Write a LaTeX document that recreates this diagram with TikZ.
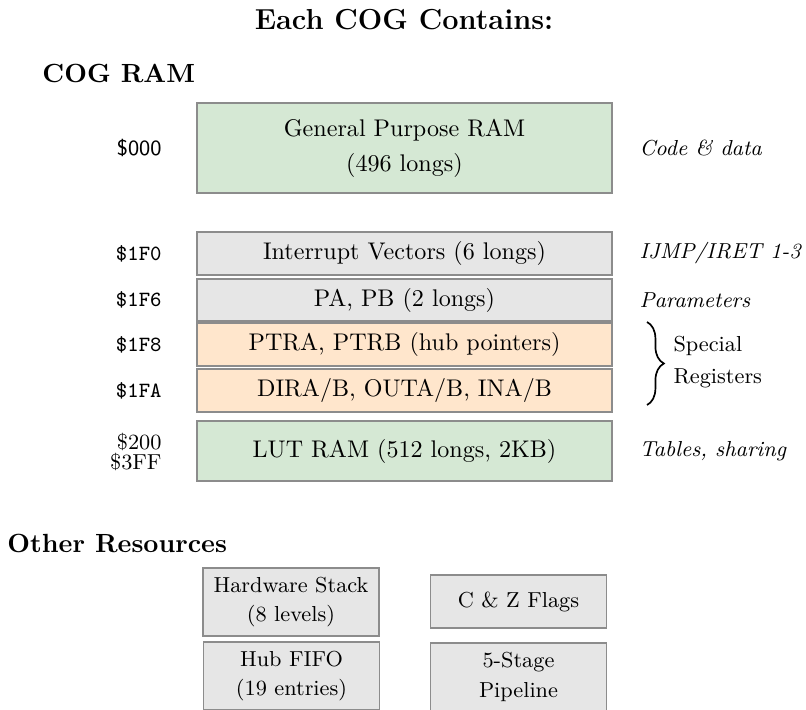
\documentclass[tikz,border=0pt]{standalone}
\usetikzlibrary{decorations.pathreplacing}
\definecolor{grn}{RGB}{213,232,212}
\definecolor{gry}{RGB}{230,230,230}
\definecolor{org}{RGB}{255,230,204}
\definecolor{edgec}{RGB}{140,140,140}
\newcommand\pxu{0.415pt}
\begin{document}
\begin{tikzpicture}[x=\pxu, y=-\pxu,
  box/.style={draw=edgec, line width=0.8pt, inner sep=0pt, align=center, font=\fontsize{10}{14.5}\selectfont},
  ram/.style={box, minimum width=415*\pxu},
  res/.style={box, minimum width=176*\pxu, minimum height=68*\pxu, fill=gry, font=\fontsize{9}{12.4}\selectfont},
  txt/.style={inner sep=0pt},
  addr/.style={txt, anchor=east, font=\small\ttfamily},
  note/.style={txt, anchor=west, font=\small\itshape},
  head/.style={txt, anchor=base west, font=\fontsize{10.9}{13}\selectfont\bfseries}]
\useasboundingbox (0,0) rectangle (806,710);
\clip (0,0) rectangle (806,710);

\node[txt, anchor=base, font=\large\bfseries] (title) at (404,30) {Each COG Contains:};
\node[head] (h1) at (42,83) {COG RAM};
\node[head] (h2) at (7,552) {Other Resources};

\node[ram, fill=grn, minimum height=90*\pxu] (gp) at (404.5,148) {General Purpose RAM\\(496 longs)};
\node[ram, fill=gry, minimum height=43*\pxu] (iv) at (404.5,253.5) {Interrupt Vectors (6 longs)};
\node[ram, fill=gry, minimum height=42*\pxu] (pa) at (404.5,300) {PA, PB (2 longs)};
\node[ram, fill=org, minimum height=43*\pxu] (ptr) at (404.5,344.5) {PTRA, PTRB (hub pointers)};
\node[ram, fill=org, minimum height=43*\pxu] (dir) at (404.5,390.5) {DIRA/B, OUTA/B, INA/B};
\node[ram, fill=grn, minimum height=60*\pxu] (lut) at (404.5,451) {LUT RAM (512 longs, 2KB)};

\node[txt, anchor=east, font=\small\sffamily] (a0) at (162,148) {\$000};
\node[addr] (a1) at (162,253.5) {\$1F0};
\node[addr] (a2) at (162,300) {\$1F6};
\node[addr] (a3) at (162,344.5) {\$1F8};
\node[addr] (a4) at (162,390.5) {\$1FA};
\node[txt, anchor=east, align=right, font=\fontsize{9}{8.3}\selectfont] (a5) at (162,452) {\$200\\\$3FF};

\node[note] (n0) at (639,148) {Code \& data};
\node[note] (n1) at (639,253.5) {IJMP/IRET 1-3};
\node[note] (n2) at (639,300) {Parameters};
\node[note] (n3) at (639,451) {Tables, sharing};

\coordinate (bt) at (647,322);
\coordinate (bb) at (647,405);
\draw[decorate, decoration={brace, amplitude=7pt}, line width=0.7pt] (bt) -- (bb);
\node[txt, anchor=west, align=left, font=\fontsize{9}{13}\selectfont] (sr) at (673,362) {Special\\Registers};

\node[res] (hs) at (291,602) {Hardware Stack\\(8 levels)};
\node[res, minimum height=53*\pxu] (cz) at (518.5,601.5) {C \& Z Flags};
\node[res] (ff) at (291.5,676) {Hub FIFO\\(19 entries)};
\node[res] (pl) at (518.5,677) {5-Stage\\Pipeline};
\end{tikzpicture}
\end{document}
